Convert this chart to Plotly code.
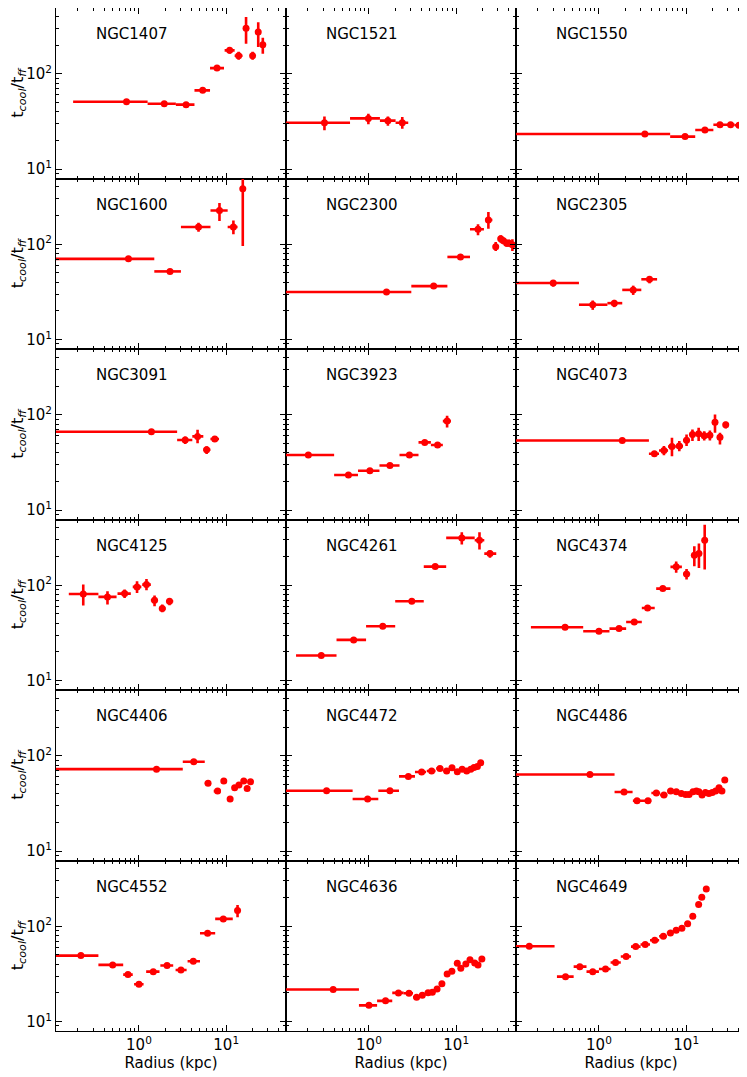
import math
import plotly.graph_objects as go
from plotly.subplots import make_subplots

# radius bins in kpc (centre, inner edge, outer edge); t = tcool/tff with error range
# an inner edge of 0.01 stands for a bin that starts at the centre

n1407_r = [0.72, 1.95, 3.47, 5.38, 7.85, 10.96, 13.9, 16.9, 20.1, 23.3, 26.3]
n1407_rin = [0.176, 1.257, 2.65, 4.33, 6.53, 9.6, 12.5, 16.2, 19.3, 22.5, 25.4]
n1407_rout = [1.257, 2.65, 4.33, 6.53, 9.44, 12.5, 15.4, 17.6, 20.9, 24.1, 27.2]
n1407_t = [50.9, 48.5, 47.4, 67.0, 114.7, 176, 154.5, 301, 154.5, 274, 201]
n1407_tlo = [49, 46.5, 45.5, 64, 110, 162, 140, 206, 140, 191, 162]
n1407_thi = [53, 50.5, 49.5, 70, 120, 190, 170, 393, 170, 348, 238]

n1521_r = [0.309, 0.985, 1.65, 2.41]
n1521_rin = [0.01, 0.607, 1.336, 2.02]
n1521_rout = [0.607, 1.336, 2.02, 2.82]
n1521_t = [30.6, 34.0, 32.2, 30.6]
n1521_tlo = [25.5, 29.5, 28.5, 26.5]
n1521_thi = [35.7, 38.1, 35.7, 35.2]

n1550_r = [3.36, 9.71, 16.4, 24.4, 32.3, 40.3, 47.5]
n1550_rin = [0.01, 6.55, 12.7, 20.5, 28.6, 36, 44]
n1550_rout = [6.55, 12.7, 20.5, 28.6, 36, 44, 51]
n1550_t = [23.3, 21.9, 25.7, 29.2, 29.2, 28.8, 28.3]

n1600_r = [0.758, 2.27, 4.82, 8.38, 12.1, 15.5]
n1600_rin = [0.01, 1.50, 3.03, 6.61, 10.4, 15.0]
n1600_rout = [1.50, 3.03, 6.61, 10.4, 13.5, 16.0]
n1600_t = [70.3, 51.9, 151.6, 226, 151.6, 383]
n1600_tlo = [68, 50, 135.5, 175, 127, 96]
n1600_thi = [72.5, 54, 168, 271, 178, 800]

n2300_r = [1.59, 5.52, 11.2, 17.8, 23.4, 28.4, 32.4, 34.8, 37.9, 40.3, 44.1]
n2300_rin = [0.01, 3.06, 7.93, 14.4, 21.4, 27.5, 31.5, 34, 37, 39.5, 43]
n2300_rout = [3.06, 7.93, 14.4, 20.8, 26.0, 29.5, 33.5, 36, 39, 41.5, 45.5]
n2300_t = [31.6, 36.4, 73.6, 143.6, 179.5, 94.4, 114.5, 109, 102.4, 102.4, 99.0]
n2300_tlo = [30.5, 35, 71, 124, 145.6, 85.1, 103.9, 100, 94, 94, 85.1]
n2300_thi = [32.7, 38, 76, 162, 218, 105.7, 124, 118, 112, 112, 112.8]

n2305_r = [0.299, 0.849, 1.50, 2.47, 3.80]
n2305_rin = [0.01, 0.59, 1.25, 1.85, 3.06]
n2305_rout = [0.59, 1.25, 1.85, 3.06, 4.64]
n2305_t = [39.2, 23.2, 24.1, 33.2, 42.9]
n2305_tlo = [35.9, 20.5, 21.9, 29.4, 38.9]
n2305_thi = [42.2, 25.7, 26.1, 36.8, 45.7]

n3091_r = [1.39, 3.39, 4.70, 5.97, 7.40]
n3091_rin = [0.01, 2.74, 4.09, 5.47, 6.60]
n3091_rout = [2.74, 4.09, 5.47, 6.60, 8.28]
n3091_t = [66.4, 54.3, 59.3, 42.9, 55.6]
n3091_tlo = [65, 49.2, 50.1, 38.7, 53]
n3091_thi = [68, 59.3, 69.7, 46.6, 58]

n3923_r = [0.202, 0.582, 1.025, 1.74, 2.91, 4.36, 6.12, 7.87]
n3923_rin = [0.01, 0.399, 0.749, 1.32, 2.24, 3.70, 5.13, 7.03]
n3923_rout = [0.399, 0.749, 1.32, 2.24, 3.70, 5.13, 7.03, 8.71]
n3923_t = [37.8, 23.3, 25.9, 29.4, 37.8, 51.3, 48.1, 85.8]
n3923_tlo = [36.5, 22.5, 25, 28.4, 36.3, 49, 46, 73.6]
n3923_thi = [39, 24.1, 26.8, 30.4, 39.3, 53.6, 50.2, 97.6]

n4073_r = [1.85, 4.32, 5.56, 6.87, 8.34, 10.1, 11.8, 13.9, 16.1, 18.7, 21.4, 24.4, 28.4]
n4073_rin = [0.01, 3.74, 4.88, 6.2, 7.6, 9.2, 11.0, 12.8, 15.0, 17.4, 20.0, 23.0, 26.5]
n4073_rout = [3.74, 4.88, 6.2, 7.6, 9.2, 11.0, 12.8, 15.0, 17.4, 20.0, 23.0, 26.0, 30.3]
n4073_t = [53.7, 39.0, 42.2, 46.5, 46.9, 54.1, 62.1, 63.2, 60.2, 61.1, 83.6, 58.2, 78.5]
n4073_tlo = [52, 37.5, 37.7, 36.8, 41.5, 46.9, 52.9, 52.9, 53.7, 53.7, 64.7, 48.8, 71.8]
n4073_thi = [55.5, 40.5, 46.9, 57.4, 52.9, 62.1, 70.1, 73.1, 67.3, 68.4, 100.7, 64.7, 84.5]

n4125_r = [0.230, 0.436, 0.685, 0.951, 1.22, 1.51, 1.85, 2.24]
n4125_rin = [0.157, 0.343, 0.568, 0.849, 1.09, 1.37, 1.70, 2.05]
n4125_rout = [0.343, 0.554, 0.807, 1.065, 1.37, 1.65, 2.02, 2.47]
n4125_t = [81.1, 75.5, 81.8, 96.1, 101.6, 69.6, 56.9, 67.9]
n4125_tlo = [61.2, 62.7, 73.6, 83.1, 88.7, 60.3, 52.1, 61.7]
n4125_thi = [101.6, 86.5, 90.1, 110, 116.5, 77.9, 62.7, 73.6]

n4261_r = [0.284, 0.668, 1.44, 3.10, 5.75, 11.6, 18.5, 24.4]
n4261_rin = [0.146, 0.425, 0.927, 2.00, 4.25, 7.68, 16.3, 21.0]
n4261_rout = [0.425, 0.927, 2.00, 4.25, 7.68, 16.3, 21.0, 28.8]
n4261_t = [18.3, 26.7, 37.2, 67.9, 157, 314, 297, 215]
n4261_tlo = [17.7, 25.8, 35.8, 65.5, 152, 267, 237, 194]
n4261_thi = [18.9, 27.6, 38.6, 70.3, 162, 360, 360, 233]

n4374_r = [0.409, 1.0, 1.70, 2.54, 3.61, 5.40, 7.68, 10.1, 12.4, 14.0, 16.3]
n4374_rin = [0.166, 0.660, 1.32, 2.05, 3.10, 4.53, 6.60, 9.2, 11.7, 13.3, 15.2]
n4374_rout = [0.660, 1.32, 2.05, 3.10, 4.36, 6.60, 8.93, 11.1, 13.2, 14.8, 17.4]
n4374_t = [36.3, 32.9, 35.1, 41.2, 57.8, 92.3, 156, 131.5, 206.5, 215, 297]
n4374_tlo = [35.2, 31.8, 33.8, 39.5, 55.5, 89, 135, 114.7, 158, 152, 146]
n4374_thi = [37.4, 34, 36.4, 42.9, 60.1, 95.6, 178, 148, 257, 274, 432]

n4406_r = [1.59, 4.25, 6.20, 7.97, 9.39, 11.1, 12.5, 14.0, 15.9, 17.4, 19.0]
n4406_rin = [0.01, 3.18, 5.68, 7.2, 8.8, 10.5, 12.0, 13.4, 15.2, 16.8, 18.3]
n4406_rout = [3.18, 5.68, 6.7, 8.7, 10.0, 11.7, 13.1, 14.8, 16.6, 18.1, 19.8]
n4406_t = [72.4, 86.5, 51.6, 42.6, 54.2, 35.1, 46.1, 49.2, 54.2, 45.4, 53.3]
n4406_tlo = [70.5, 83.5, 49.5, 40.5, 51.5, 33.3, 43.8, 47, 52, 43, 51]
n4406_thi = [74.3, 89.5, 53.7, 44.7, 56.9, 37, 48.4, 51.4, 56.4, 47.8, 55.6]

n4472_r = [0.327, 0.966, 1.74, 2.83, 4.02, 5.23, 6.52, 7.78, 8.95, 10.3, 11.7, 13.2, 14.7, 16.0, 17.5, 19.1]
n4472_rin = [0.01, 0.650, 1.28, 2.21, 3.37, 4.6, 5.9, 7.1, 8.4, 9.6, 11.0, 12.4, 13.9, 15.3, 16.7, 18.3]
n4472_rout = [0.650, 1.28, 2.21, 3.37, 4.51, 5.8, 7.1, 8.3, 9.6, 11.0, 12.4, 13.9, 15.3, 16.7, 18.3, 19.9]
n4472_t = [43.0, 35.2, 43.0, 60.7, 67.5, 69.1, 73.6, 69.1, 74.8, 67.9, 72.4, 69.1, 72.4, 75.3, 77.3, 84.5]

n4486_r = [0.789, 1.94, 2.73, 3.65, 4.55, 5.56, 6.64, 7.71, 8.80, 9.86, 10.8,
           11.97, 13.1, 14.0, 15.2, 16.6, 18.2, 19.9, 21.8, 23.8, 25.7, 27.7]
n4486_rin = [0.01, 1.51, 2.45, 3.2, 3.99, 5.03, 6.08, 7.15, 8.24, 9.31, 10.3,
             11.4, 12.5, 13.5, 14.6, 15.9, 17.4, 19.0, 20.8, 22.8, 24.7, 26.7]
n4486_rout = [1.51, 2.43, 3.2, 3.99, 5.03, 6.08, 7.15, 8.24, 9.31, 10.3, 11.4,
              12.5, 13.5, 14.6, 15.9, 17.4, 19.0, 20.8, 22.8, 24.7, 26.7, 28.7]
n4486_t = [63.7, 41.6, 33.7, 33.7, 40.6, 38.7, 42.6, 41.9, 40.2, 39.2, 39.2,
           41.9, 42.6, 41.9, 38.7, 41.2, 40.2, 41.2, 42.6, 46.1, 42.6, 55.6]

n4552_r = [0.216, 0.50, 0.749, 1.0, 1.46, 2.10, 3.03, 4.20, 6.12, 9.27, 13.5]
n4552_rin = [0.01, 0.343, 0.66, 0.88, 1.21, 1.76, 2.63, 3.61, 5.01, 7.48, 12.6]
n4552_rout = [0.343, 0.66, 0.849, 1.13, 1.72, 2.47, 3.52, 5.01, 7.48, 11.9, 14.5]
n4552_t = [49.2, 39.3, 31.1, 24.6, 33.4, 38.7, 34.8, 43.0, 84.5, 119.4, 146]
n4552_tlo = [48, 38, 29.6, 23.6, 32, 37, 33.4, 41.5, 81.5, 114, 124]
n4552_thi = [50.4, 40.6, 32.6, 25.6, 34.8, 40.4, 36.2, 44.5, 87.5, 125, 167]

n4636_r = [0.389, 1.0, 1.55, 2.18, 2.88, 3.52, 4.09, 4.76, 5.33, 6.04,
           6.86, 7.88, 8.93, 10.3, 11.3, 12.9, 14.4, 16.3, 17.8, 19.7]
n4636_rin = [0.01, 0.768, 1.24, 1.85, 2.5, 3.2, 3.8, 4.4, 5.05, 5.7,
             6.45, 7.35, 8.4, 9.6, 10.8, 12.1, 13.6, 15.3, 17.0, 18.7]
n4636_rout = [0.768, 1.24, 1.85, 2.5, 3.2, 3.8, 4.4, 5.05, 5.7, 6.45,
              7.35, 8.4, 9.6, 10.8, 12.1, 13.6, 15.3, 17.0, 18.7, 20.7]
n4636_t = [21.7, 14.8, 16.5, 20.0, 19.8, 18.0, 18.9, 20.1, 20.3, 22.0,
           24.9, 31.6, 33.7, 40.9, 36.2, 40.2, 44.4, 41.2, 39.3, 45.4]

n4649_r = [0.159, 0.414, 0.604, 0.849, 1.19, 1.55, 2.05, 2.64, 3.39, 4.36,
           5.47, 6.60, 7.68, 8.93, 10.4, 11.9, 13.9, 15.1, 17.0]
n4649_rin = [0.01, 0.33, 0.513, 0.72, 1.0, 1.36, 1.78, 2.33, 3.0, 3.85,
             4.9, 6.0, 7.1, 8.3, 9.6, 11.1, 12.9, 14.5, 16.0]
n4649_rout = [0.31, 0.513, 0.72, 1.0, 1.36, 1.78, 2.33, 3.0, 3.85, 4.9,
              6.0, 7.1, 8.3, 9.6, 11.1, 12.9, 14.5, 16.0, 18.0]
n4649_t = [61.6, 29.6, 37.7, 33.4, 35.6, 41.6, 48.1, 61.2, 64.3, 71.3,
           78.5, 85.1, 90.8, 95.3, 106, 127, 169, 201, 246]

panels = [
    ("NGC1407", n1407_r, n1407_rin, n1407_rout, n1407_t, n1407_tlo, n1407_thi),
    ("NGC1521", n1521_r, n1521_rin, n1521_rout, n1521_t, n1521_tlo, n1521_thi),
    ("NGC1550", n1550_r, n1550_rin, n1550_rout, n1550_t, None, None),
    ("NGC1600", n1600_r, n1600_rin, n1600_rout, n1600_t, n1600_tlo, n1600_thi),
    ("NGC2300", n2300_r, n2300_rin, n2300_rout, n2300_t, n2300_tlo, n2300_thi),
    ("NGC2305", n2305_r, n2305_rin, n2305_rout, n2305_t, n2305_tlo, n2305_thi),
    ("NGC3091", n3091_r, n3091_rin, n3091_rout, n3091_t, n3091_tlo, n3091_thi),
    ("NGC3923", n3923_r, n3923_rin, n3923_rout, n3923_t, n3923_tlo, n3923_thi),
    ("NGC4073", n4073_r, n4073_rin, n4073_rout, n4073_t, n4073_tlo, n4073_thi),
    ("NGC4125", n4125_r, n4125_rin, n4125_rout, n4125_t, n4125_tlo, n4125_thi),
    ("NGC4261", n4261_r, n4261_rin, n4261_rout, n4261_t, n4261_tlo, n4261_thi),
    ("NGC4374", n4374_r, n4374_rin, n4374_rout, n4374_t, n4374_tlo, n4374_thi),
    ("NGC4406", n4406_r, n4406_rin, n4406_rout, n4406_t, n4406_tlo, n4406_thi),
    ("NGC4472", n4472_r, n4472_rin, n4472_rout, n4472_t, None, None),
    ("NGC4486", n4486_r, n4486_rin, n4486_rout, n4486_t, None, None),
    ("NGC4552", n4552_r, n4552_rin, n4552_rout, n4552_t, n4552_tlo, n4552_thi),
    ("NGC4636", n4636_r, n4636_rin, n4636_rout, n4636_t, None, None),
    ("NGC4649", n4649_r, n4649_rin, n4649_rout, n4649_t, None, None),
]

x_ticks = [1, 10]
x_ticktext = ["10<sup>0</sup>", "10<sup>1</sup>"]
y_ticks = [10, 100]
y_ticktext = ["10<sup>1</sup>", "10<sup>2</sup>"]

RED = "#ff0000"
FONT = "DejaVu Sans"

fig = make_subplots(rows=6, cols=3, horizontal_spacing=0, vertical_spacing=0)

for i, (name, r, rin, rout, t, tlo, thi) in enumerate(panels):
    row, col = i // 3 + 1, i % 3 + 1
    ex = dict(type="data", symmetric=False,
              array=[b - a for a, b in zip(r, rout)],
              arrayminus=[a - b for a, b in zip(r, rin)],
              color=RED, thickness=2.6, width=0)
    ey = None
    if tlo is not None:
        ey = dict(type="data", symmetric=False,
                  array=[b - a for a, b in zip(t, thi)],
                  arrayminus=[a - b for a, b in zip(t, tlo)],
                  color=RED, thickness=2.6, width=0)
    fig.add_trace(go.Scatter(x=r, y=t, mode="markers",
                             marker=dict(color=RED, size=7),
                             error_x=ex, error_y=ey,
                             showlegend=False, hoverinfo="skip"),
                  row=row, col=col)
    fig.add_annotation(text=name, xref="x domain", yref="y domain",
                       x=0.165, y=0.845, xanchor="left", yanchor="middle",
                       showarrow=False, font=dict(family=FONT, size=15, color="black"),
                       row=row, col=col)

x_minor = [k * 10 ** e for e in (-1, 0, 1) for k in range(2, 10)]
y_minor = [k * 10 ** e for e in (0, 1, 2) for k in range(2, 10)]

fig.update_xaxes(type="log", range=[math.log10(0.112), math.log10(48.5)],
                 tickmode="array", tickvals=x_ticks, ticktext=x_ticktext,
                 ticks="inside", ticklen=6, tickwidth=1, tickcolor="black",
                 minor=dict(tickmode="array", tickvals=x_minor, ticks="inside",
                            ticklen=3, tickwidth=1, tickcolor="black", showgrid=False),
                 showline=True, linecolor="black", linewidth=1, mirror="ticks",
                 showgrid=False, zeroline=False, showticklabels=False, automargin=False,
                 tickfont=dict(family=FONT, size=15, color="black"))
fig.update_yaxes(type="log", range=[0.901, 2.69],
                 tickmode="array", tickvals=y_ticks, ticktext=y_ticktext,
                 ticks="inside", ticklen=6, tickwidth=1, tickcolor="black",
                 minor=dict(tickmode="array", tickvals=y_minor, ticks="inside",
                            ticklen=3, tickwidth=1, tickcolor="black", showgrid=False),
                 showline=True, linecolor="black", linewidth=1, mirror="ticks",
                 showgrid=False, zeroline=False, showticklabels=False, automargin=False,
                 tickfont=dict(family=FONT, size=15, color="black"))

for c in range(1, 4):
    fig.update_xaxes(showticklabels=True, row=6, col=c,
                     title=dict(text="Radius (kpc)", standoff=4,
                                font=dict(family=FONT, size=15, color="black")))
for rr in range(1, 7):
    fig.update_yaxes(showticklabels=True, row=rr, col=1,
                     title=dict(text="t<sub><i>cool</i></sub>/t<sub><i>ff</i></sub>", standoff=2,
                                font=dict(family=FONT, size=16, color="black")))

# the page puts the figure 8 px in from the top-left corner
fig.update_layout(width=739, height=1069,
                  margin=dict(l=48, r=1, t=0, b=46),
                  paper_bgcolor="white", plot_bgcolor="white",
                  font=dict(family=FONT, color="black"))

fig.write_html("out.html")
